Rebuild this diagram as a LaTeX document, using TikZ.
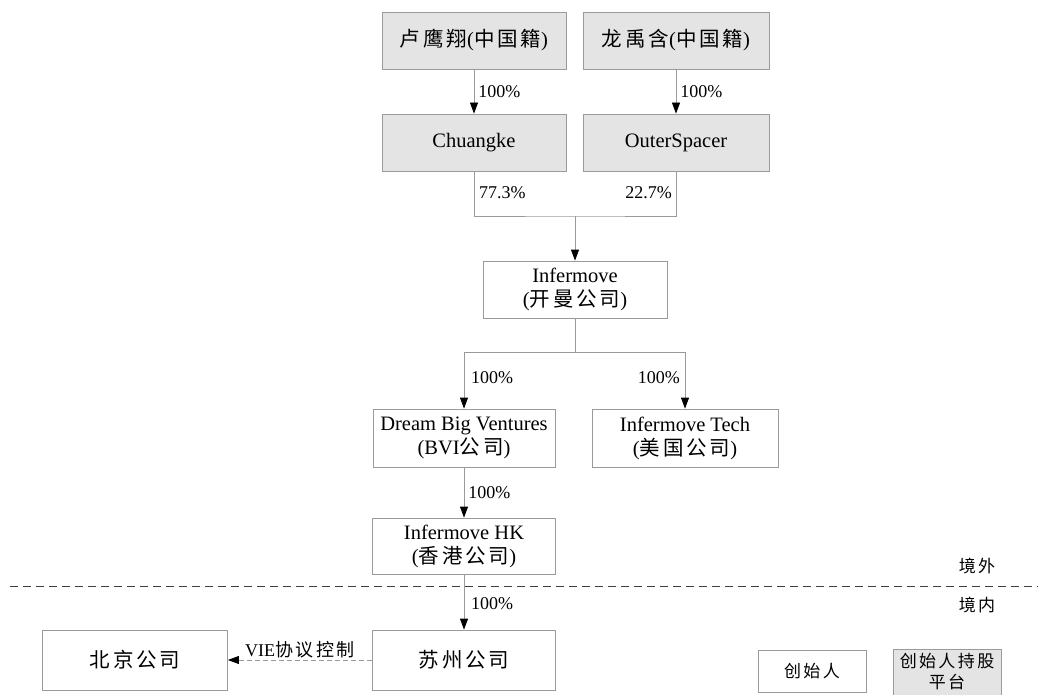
\documentclass[tikz,border=0pt]{standalone}
\usepackage{fontspec}
\setmainfont{Liberation Serif}
\newfontfamily\cjk[LetterSpace=14]{Noto Sans CJK SC}
\usetikzlibrary{arrows.meta}
\newcommand\zh[1]{{\cjk #1}}
\definecolor{boxgray}{HTML}{E4E4E4}
\definecolor{edgegray}{HTML}{9A9A9A}
\tikzset{
  box/.style={draw=edgegray, line width=0.8pt, fill=white, align=center,
    inner sep=2pt, font=\fontsize{20.5}{24}\selectfont},
  gbox/.style={box, fill=boxgray},
  conn/.style={draw=edgegray, line width=0.8pt},
  arr/.style={conn, -{Triangle[length=11pt,width=8pt,color=black]}},
  pct/.style={font=\fontsize{18}{21}\selectfont, inner sep=1pt},
  lgd/.style={font=\fontsize{17}{21}\selectfont, align=center}
}
\begin{document}
\begin{tikzpicture}[x=1pt,y=-1pt]
\useasboundingbox (0,0) rectangle (1038,695);
% top founders
\node[gbox, minimum width=184pt, minimum height=57pt] (a) at (474,40.5) {\zh{卢鹰翔}(\zh{中国籍})};
\node[gbox, minimum width=186pt, minimum height=57pt] (b) at (676,40.5) {\zh{龙禹含}(\zh{中国籍})};
% holding platforms
\node[gbox, minimum width=184pt, minimum height=57pt] (c) at (474,142.5) {Chuangke};
\node[gbox, minimum width=186pt, minimum height=57pt] (d) at (676,142.5) {OuterSpacer};
% Infermove
\node[box, minimum width=184pt, minimum height=57pt] (e) at (575,289.5) {Infermove\\(\zh{开曼公司})};
\node[box, minimum width=182pt, minimum height=58pt] (f) at (464,438) {Dream Big Ventures\\(BVI\zh{公司})};
\node[box, minimum width=186pt, minimum height=58pt] (g) at (685,438) {Infermove Tech\\(\zh{美国公司})};
\node[box, minimum width=183pt, minimum height=56pt] (h) at (464,546) {Infermove HK\\(\zh{香港公司})};
\node[box, minimum width=183pt, minimum height=60pt] (i) at (464,660) {\zh{苏州公司}};
\node[box, minimum width=185pt, minimum height=60pt] (j) at (135,660) {\zh{北京公司}};
% legend
\node[box, lgd, minimum width=108pt, minimum height=42pt] (k) at (812,671) {\zh{创始人}};
\node[gbox, lgd, minimum width=108pt, minimum height=46pt] (l) at (947,672) {\zh{创始人持股}\\\zh{平台}};
% connectors
\draw[arr] (a) -- node[pct, anchor=west, xshift=3pt] {100\%} (c);
\draw[arr] (b) -- node[pct, anchor=west, xshift=3pt] {100\%} (d);
\coordinate (m1) at (575,216);
\draw[conn] (c.south) |- (m1) -| (d.south);
\node[pct, anchor=west] (p1) at (478,193) {77.3\%};
\node[pct, anchor=east] (p2) at (673,193) {22.7\%};
\draw[arr] (m1) -- (e.north);
\coordinate (m2) at (575,352);
\draw[conn] (e.south) -- (m2);
\draw[arr] (m2) -| (f.north);
\draw[arr] (m2) -| (g.north);
\node[pct, anchor=west] (p3) at (470,378) {100\%};
\node[pct, anchor=east] (p4) at (681,378) {100\%};
\draw[arr] (f) -- node[pct, anchor=west, xshift=3pt] {100\%} (h);
\draw[arr] (h) -- (i);
\node[pct, anchor=west] (p5) at (470,604) {100\%};
\draw[conn, dashed, dash pattern=on 5pt off 3pt, -{Triangle[length=11pt,width=8pt,color=black]}] (i.west) -- node[pct, above, yshift=1pt] {VIE\zh{协议控制}} (j.east);
% border line
\coordinate (bl) at (10,586);
\coordinate (br) at (1038,586);
\draw[black!75, line width=1pt, dash pattern=on 8pt off 5pt] (bl) -- (br);
\node[lgd] (jw) at (977,566) {\zh{境外}};
\node[lgd] (jn) at (977,605) {\zh{境内}};
\end{tikzpicture}
\end{document}
